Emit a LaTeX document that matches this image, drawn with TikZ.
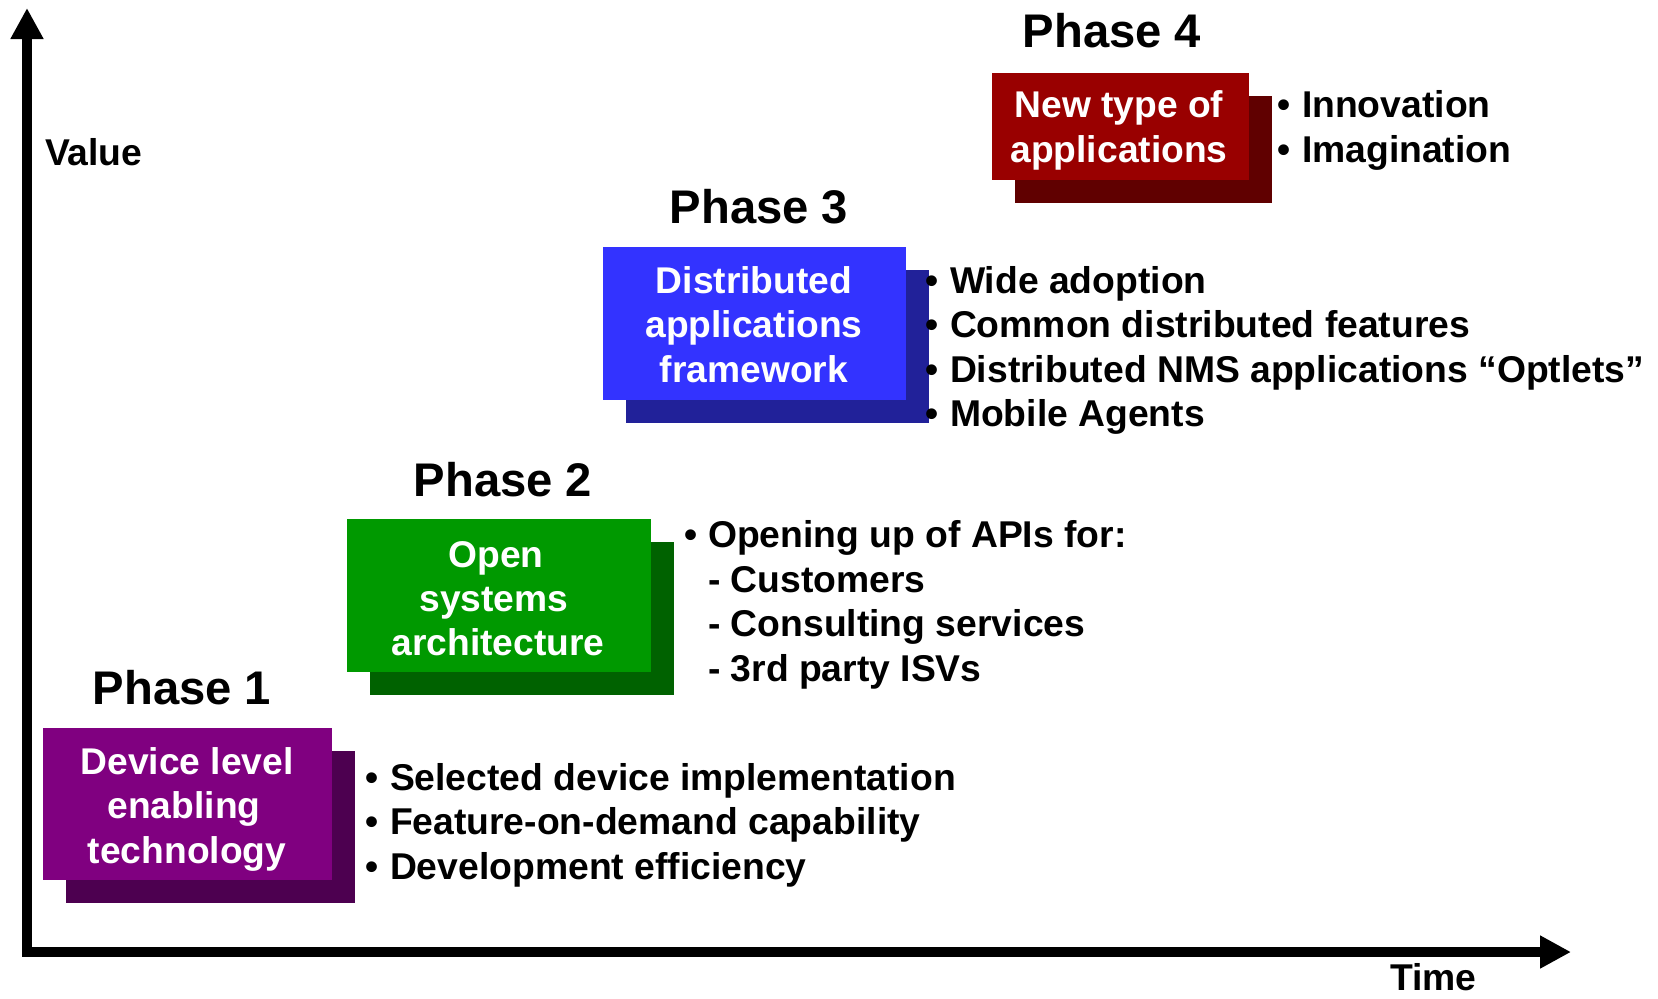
\documentclass[tikz,border=0pt]{standalone}
\usepackage{fontspec}
\setmainfont{Liberation Sans}
\usetikzlibrary{arrows.meta}

\definecolor{p1front}{RGB}{128,0,128}
\definecolor{p1back}{RGB}{77,0,80}
\definecolor{p2front}{RGB}{0,153,0}
\definecolor{p2back}{RGB}{0,98,0}
\definecolor{p3front}{RGB}{51,51,255}
\definecolor{p3back}{RGB}{33,33,153}
\definecolor{p4front}{RGB}{153,0,0}
\definecolor{p4back}{RGB}{96,0,0}

\begin{document}
\begin{tikzpicture}[x=0.5pt,y=-0.5pt,
  every node/.style={inner sep=0pt, outer sep=0pt},
  panel/.style={anchor=north west, draw=none},
  boxtxt/.style={anchor=base, text=white, font=\fontsize{18.6pt}{22pt}\selectfont\bfseries},
  itemtxt/.style={anchor=base west, text=black, font=\fontsize{18.65pt}{22pt}\selectfont\bfseries},
  phasetxt/.style={anchor=base, text=black, font=\fontsize{23.6pt}{28pt}\selectfont\bfseries},
  axisline/.style={line width=5pt,
    {Triangle[length=15.5pt,width=15.5pt]}-{Triangle[length=15.5pt,width=15.5pt]}}
]
\useasboundingbox (0,0) rectangle (1658,998);

% ---- axes ----
\coordinate (origin) at (27,952);
\coordinate (ytop) at (27,8);
\coordinate (xend) at (1571,952);
\draw[axisline] (ytop) -- (origin) -- (xend);
\node[itemtxt] (valuelbl) at (45,165) {Value};
\node[itemtxt] (timelbl) at (1390,990) {Time};

% ---- Phase 1 ----
\node[panel, fill=p1back, minimum width=144.5pt, minimum height=76pt] (s1) at (66,751) {};
\node[panel, fill=p1front, minimum width=144.5pt, minimum height=76pt] (f1) at (43,728) {};
\node[boxtxt] (f1a) at (187,774) {Device level};
\node[boxtxt] (f1b) at (184,818.5) {enabling};
\node[boxtxt] (f1c) at (187,863) {technology};
\node[phasetxt] (ph1) at (182,704) {Phase 1};
\node[itemtxt] (b1a) at (365,790) {•};
\node[itemtxt] (t1a) at (390,790) {Selected device implementation};
\node[itemtxt] (b1b) at (365,834.5) {•};
\node[itemtxt] (t1b) at (390,834.5) {Feature-on-demand capability};
\node[itemtxt] (b1c) at (365,879) {•};
\node[itemtxt] (t1c) at (390,879) {Development efficiency};

% ---- Phase 2 ----
\node[panel, fill=p2back, minimum width=152pt, minimum height=76.5pt] (s2) at (370,542) {};
\node[panel, fill=p2front, minimum width=152pt, minimum height=76.5pt] (f2) at (347,519) {};
\node[boxtxt] (f2a) at (496,567) {Open};
\node[boxtxt] (f2b) at (494,611) {systems};
\node[boxtxt] (f2c) at (498,655) {architecture};
\node[phasetxt] (ph2) at (503,496) {Phase 2};
\node[itemtxt] (b2a) at (684,547) {•};
\node[itemtxt] (t2a) at (708,547) {Opening up of APIs for:};
\node[itemtxt] (t2b) at (708,592) {- Customers};
\node[itemtxt] (t2c) at (708,636.5) {- Consulting services};
\node[itemtxt] (t2d) at (708,681) {- 3rd party ISVs};

% ---- Phase 3 ----
\node[panel, fill=p3back, minimum width=151.5pt, minimum height=76.5pt] (s3) at (626,270) {};
\node[panel, fill=p3front, minimum width=151.5pt, minimum height=76.5pt] (f3) at (603,247) {};
\node[boxtxt] (f3a) at (754,293) {Distributed};
\node[boxtxt] (f3b) at (754,337.5) {applications};
\node[boxtxt] (f3c) at (754,382) {framework};
\node[phasetxt] (ph3) at (759,223) {Phase 3};
\node[itemtxt] (b3a) at (925,293) {•};
\node[itemtxt] (t3a) at (950,293) {Wide adoption};
\node[itemtxt] (b3b) at (925,337.5) {•};
\node[itemtxt] (t3b) at (950,337.5) {Common distributed features};
\node[itemtxt] (b3c) at (925,382) {•};
\node[itemtxt] (t3c) at (950,382) {Distributed NMS applications “Optlets”};
\node[itemtxt] (b3d) at (925,426.5) {•};
\node[itemtxt] (t3d) at (950,426.5) {Mobile Agents};

% ---- Phase 4 ----
\node[panel, fill=p4back, minimum width=128.5pt, minimum height=53.5pt] (s4) at (1015,96) {};
\node[panel, fill=p4front, minimum width=128.5pt, minimum height=53.5pt] (f4) at (992,73) {};
\node[boxtxt] (f4a) at (1119,117) {New type of};
\node[boxtxt] (f4b) at (1119,162) {applications};
\node[phasetxt] (ph4) at (1112,47) {Phase 4};
\node[itemtxt] (b4a) at (1277,117) {•};
\node[itemtxt] (t4a) at (1302,117) {Innovation};
\node[itemtxt] (b4b) at (1277,162) {•};
\node[itemtxt] (t4b) at (1302,162) {Imagination};
\end{tikzpicture}
\end{document}
